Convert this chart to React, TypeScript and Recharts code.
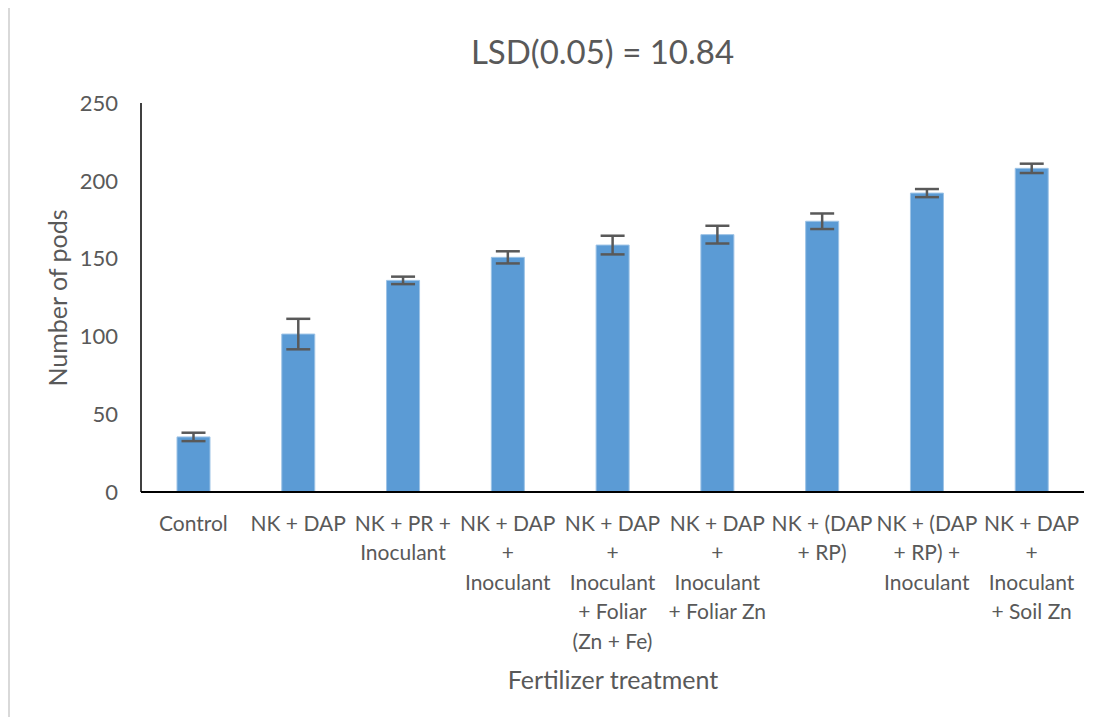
import React from 'react';
import { BarChart, Bar, XAxis, YAxis, ErrorBar, Label } from 'recharts';

const treatments = [
  'Control',
  'NK + DAP',
  'NK + PR +\nInoculant',
  'NK + DAP\n+\nInoculant',
  'NK + DAP\n+\nInoculant\n+ Foliar\n(Zn + Fe)',
  'NK + DAP\n+\nInoculant\n+ Foliar Zn',
  'NK + (DAP\n+ RP)',
  'NK + (DAP\n+ RP) +\nInoculant',
  'NK + DAP\n+\nInoculant\n+ Soil Zn',
];
const pods = [35.4, 101.5, 136.0, 150.8, 158.7, 165.4, 174.0, 192.1, 208.0];
const podsErr = [2.7, 9.8, 2.4, 3.9, 6.0, 5.7, 5.0, 2.6, 3.0];
const yTicks = [0, 50, 100, 150, 200, 250];

const data = treatments.map((name, i) => ({ name, pods: pods[i], err: podsErr[i] }));

const FONT = 'Lato, "Open Sans", sans-serif';
const GREY = '#595959';

const TreatmentTick = (props: any) => {
  const { x, y, payload } = props;
  const lines = String(payload.value).split('\n');
  return (
    <text x={x} y={y} textAnchor="middle" fill={GREY} fontSize={21} fontFamily={FONT}>
      {lines.map((ln, i) => (
        <tspan key={i} x={x} y={y + 38.5 + i * 29.5}>{ln}</tspan>
      ))}
    </text>
  );
};

export default function App() {
  return (
    <div
      style={{
        position: 'relative',
        marginTop: -4,
        width: 1097,
        height: 711,
        borderTop: '2px solid #d9d9d9',
        borderLeft: '2px solid #d9d9d9',
        background: '#fff',
      }}
    >
      <div
        style={{
          position: 'absolute',
          left: 0,
          width: 1185,
          top: 25,
          textAlign: 'center',
          fontFamily: FONT,
          fontSize: 33,
          color: GREY,
        }}
      >
        LSD(0.05) = 10.84
      </div>
      <BarChart
        width={1097}
        height={711}
        data={data}
        margin={{ top: 97, right: 23, bottom: 75, left: 71 }}
      >
        <XAxis
          dataKey="name"
          interval={0}
          height={150}
          stroke="#000"
          strokeWidth={2}
          tickLine={false}
          tickSize={0}
          tickMargin={0}
          tick={<TreatmentTick />}
        >
          <Label
            content={() => (
              <text x={603} y={683} textAnchor="middle" fill={GREY} fontSize={25} fontFamily={FONT}>
                Fertilizer treatment
              </text>
            )}
          />
        </XAxis>
        <YAxis
          width={60}
          domain={[0, 250]}
          ticks={yTicks}
          stroke="#000"
          strokeWidth={1.5}
          tickLine={false}
          tickSize={0}
          tickMargin={23}
          tick={{ fill: GREY, fontSize: 22, fontFamily: FONT }}
        >
          <Label
            content={() => (
              <text
                x={47}
                y={292}
                transform="rotate(-90 47 292)"
                textAnchor="middle"
                dominantBaseline="central"
                fill={GREY}
                fontSize={25}
                fontFamily={FONT}
              >
                Number of pods
              </text>
            )}
          />
        </YAxis>
        <Bar dataKey="pods" fill="#5b9bd5" stroke="#9dc3e6" strokeWidth={1} barSize={33} isAnimationActive={false}>
          <ErrorBar dataKey="err" width={12} stroke={GREY} strokeWidth={2.5} direction="y" />
        </Bar>
      </BarChart>
    </div>
  );
}
